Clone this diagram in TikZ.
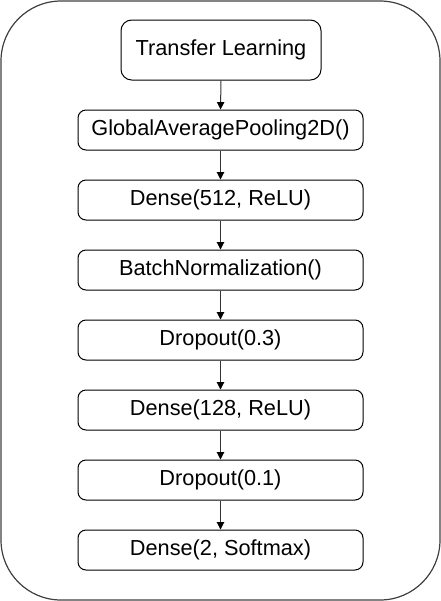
\documentclass[tikz,border=0pt]{standalone}
\usepackage{fontspec}
\setmainfont{Liberation Sans}
\usetikzlibrary{arrows.meta}
\begin{document}
\begin{tikzpicture}[x=0.75pt,y=-0.75pt,
  layer/.style={draw=black, line width=0.75pt, rounded corners=6pt, minimum width=213.75pt, minimum height=30pt, inner sep=0pt, font=\fontsize{16.3pt}{19pt}\selectfont},
  toplayer/.style={layer, minimum width=150pt, minimum height=45pt, rounded corners=8pt},
  conn/.style={draw=black!80, line width=0.75pt, -{Triangle[length=5.5pt,width=5.5pt,color=black]}}]
\useasboundingbox (0,0) rectangle (441,601);
\draw[draw=black!75, line width=0.9pt, rounded corners=45pt] (1,1) rectangle (440,600);
\node[toplayer] (tl) at (221,50) {Transfer Learning};
\node[layer] (g) at (220.5,130) {GlobalAveragePooling2D()};
\node[layer] (d1) at (220.5,200) {Dense(512, ReLU)};
\node[layer] (bn) at (220.5,270) {BatchNormalization()};
\node[layer] (dr1) at (220.5,340) {Dropout(0.3)};
\node[layer] (d2) at (220.5,410) {Dense(128, ReLU)};
\node[layer] (dr2) at (220.5,480) {Dropout(0.1)};
\node[layer] (d3) at (220.5,550) {Dense(2, Softmax)};
\draw[conn] (tl.south) -- (g.north);
\draw[conn] (g) -- (d1);
\draw[conn] (d1) -- (bn);
\draw[conn] (bn) -- (dr1);
\draw[conn] (dr1) -- (d2);
\draw[conn] (d2) -- (dr2);
\draw[conn] (dr2) -- (d3);
\end{tikzpicture}
\end{document}
